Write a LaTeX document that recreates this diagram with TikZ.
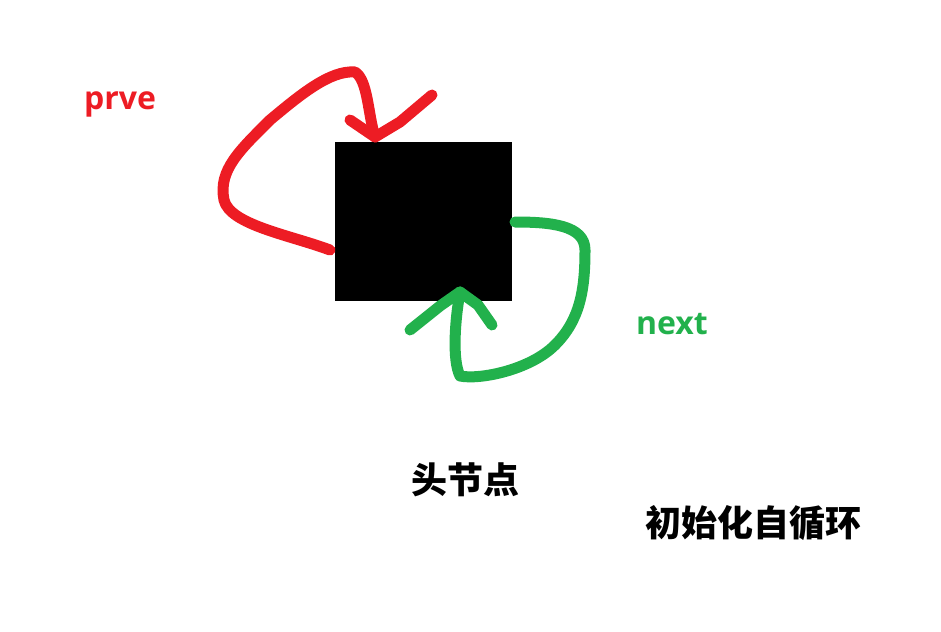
\documentclass[tikz,border=0pt]{standalone}
\usepackage{fontspec}
\setmainfont{Open Sans}
\newfontfamily\cjk{Noto Sans CJK SC}
\definecolor{rd}{RGB}{237,28,36}
\definecolor{gn}{RGB}{34,177,76}
\begin{document}
\begin{tikzpicture}[x=1pt,y=-1pt,
  pen/.style={line width=11pt,line cap=round,line join=round}]
\useasboundingbox (0,0) rectangle (941,631);
\node[fill=black,minimum width=177pt,minimum height=159pt,inner sep=0,anchor=north west] (head) at (335,142) {};
\coordinate (rs) at (330,250);
\coordinate (rt) at (375,137);
\draw[pen,rd] (rs) .. controls (290,235) and (230,225) .. (224,200)
  .. controls (218,170) and (240,150) .. (270,120)
  .. controls (300,95) and (330,70) .. (355,72)
  .. controls (368,80) and (368,115) .. (rt);
\draw[pen,rd] (350,120) -- (rt) -- (400,122) -- (432,95);
\coordinate (gs) at (515,222);
\coordinate (gt) at (460,292);
\draw[pen,gn] (gs) .. controls (550,222) and (585,225) .. (585,250)
  .. controls (585,290) and (580,320) .. (555,345)
  .. controls (530,370) and (480,380) .. (460,376)
  .. controls (452,360) and (455,320) .. (gt);
\draw[pen,gn] (410,330) -- (440,306) -- (gt) -- (478,305) -- (492,325);
\node[text=rd,font=\bfseries\fontsize{32}{32}\selectfont] (prve) at (120,104) {prve};
\node[text=gn,font=\bfseries\fontsize{32}{32}\selectfont] (next) at (672,324) {next};
\node[font=\cjk\bfseries\fontsize{36}{36}\selectfont] (hd) at (465,480) {头节点};
\node[font=\cjk\bfseries\fontsize{36}{36}\selectfont] (init) at (753,523) {初始化自循环};
\end{tikzpicture}
\end{document}
